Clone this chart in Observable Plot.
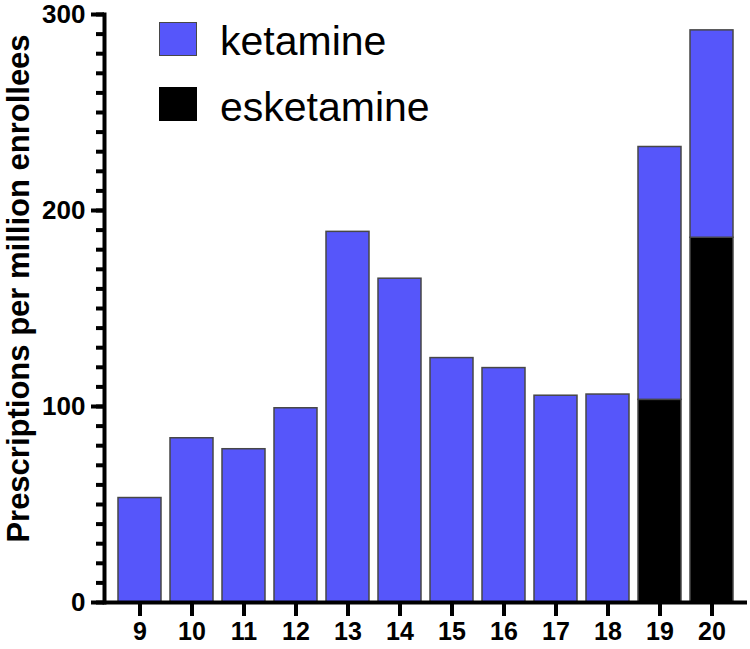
<!DOCTYPE html>
<html>
<head>
<meta charset="utf-8">
<script src="https://cdn.jsdelivr.net/npm/d3@7"></script>
<script src="https://cdn.jsdelivr.net/npm/@observablehq/plot@0.6"></script>
<style>
  body { margin: 0; background: #fff; }
  #wrap { position: relative; width: 750px; height: 649px; font-family: "Liberation Sans", Arial, sans-serif; }
  .sw { position: absolute; left: 159px; width: 38px; height: 34px; box-sizing: border-box; }
  .lt { position: absolute; left: 220px; font-size: 41px; line-height: 40px; color: #000; white-space: nowrap; }
</style>
</head>
<body>
<div id="wrap"></div>
<script>
// Data
const years = ["9", "10", "11", "12", "13", "14", "15", "16", "17", "18", "19", "20"];
const ketamine = [53.3, 83.8, 78.2, 99.1, 189.1, 165.2, 124.7, 119.6, 105.5, 106.1, 129.0, 105.8];
const esketamine = [0, 0, 0, 0, 0, 0, 0, 0, 0, 0, 103.4, 186.1];
const series = ["esketamine", "ketamine"];
const colors = ["#000000", "#5656fa"];
const yTicks = [0, 100, 200, 300];
const yLabel = "Prescriptions per million enrollees";

const rows = [];
years.forEach((yr, i) => {
  if (esketamine[i] > 0) rows.push({year: yr, drug: "esketamine", value: esketamine[i]});
});
years.forEach((yr, i) => {
  if (ketamine[i] > 0) rows.push({year: yr, drug: "ketamine", value: ketamine[i]});
});

const font = '"Liberation Sans", Arial, sans-serif';

const chart = Plot.plot({
  width: 750,
  height: 649,
  marginLeft: 104,
  marginRight: 3,
  marginTop: 14,
  marginBottom: 47,
  style: {fontFamily: font, color: "#000", background: "#fff", overflow: "visible"},
  x: {type: "band", domain: years, paddingInner: 0.164, paddingOuter: 0.19, axis: null},
  y: {domain: [0, 300], axis: null},
  color: {domain: series, range: colors},
  marks: [
    Plot.barY(rows, {x: "year", y: "value", fill: "drug", stroke: "#474747", strokeWidth: 1.5, order: series}),
    Plot.axisY({ticks: d3.range(0, 301, 10), tickSize: 8, text: null, strokeWidth: 4, label: null}),
    Plot.axisY({ticks: yTicks, tickSize: 13, tickPadding: 6, strokeWidth: 4, label: null,
      fontSize: 26, fontWeight: "bold", tickFormat: d => String(d)}),
    Plot.axisX({tickSize: 14, tickPadding: 6, strokeWidth: 4, label: null, fontSize: 25, fontWeight: "bold"}),
    Plot.ruleY([0], {strokeWidth: 4}),
    Plot.frame({anchor: "left", strokeWidth: 4}),
    Plot.text([yLabel], {frameAnchor: "left", rotate: -90, dx: -85, dy: -20, fontSize: 31, fontWeight: "bold", textAnchor: "middle", lineAnchor: "middle"})
  ]
});

const wrap = document.getElementById("wrap");
wrap.appendChild(chart);

// Legend (inside the plot area, top-left)
const legendTops = [22, 87];
const textTops = [21, 87];
["ketamine", "esketamine"].forEach((name, i) => {
  const sw = document.createElement("div");
  sw.className = "sw";
  sw.style.top = legendTops[i] + "px";
  sw.style.background = colors[series.indexOf(name)];
  sw.style.border = name === "ketamine" ? "1.5px solid #474747" : "1.5px solid #000";
  wrap.appendChild(sw);
  const t = document.createElement("div");
  t.className = "lt";
  t.style.top = textTops[i] + "px";
  t.textContent = name;
  wrap.appendChild(t);
});
chart.style.position = "absolute";
chart.style.left = "0px";
chart.style.top = "0px";
</script>
</body>
</html>
